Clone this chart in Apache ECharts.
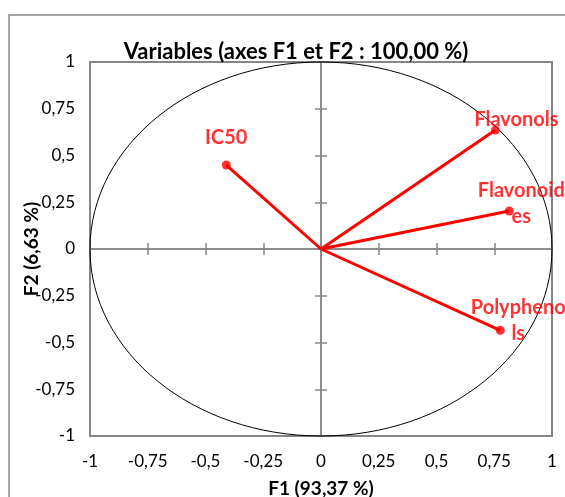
<!DOCTYPE html>
<html>
<head>
<meta charset="utf-8">
<script src="https://cdn.jsdelivr.net/npm/echarts@6/dist/echarts.min.js"></script>
<style>
    html, body {
        margin: 0;
        padding: 0;
        background: #fff;
    }
    #acp {
        width: 565px;
        height: 497px;
    }
</style>
</head>
<body>
<div id="acp"></div>
<script>
// coordonnées des variables sur F1 / F2
var variables = ['IC50', 'Flavonols', 'Flavonoides', 'Polyphenols'];
var f1 = [-0.41, 0.755, 0.815, 0.776];
var f2 = [0.449, 0.636, 0.203, -0.435];
var labelText = ['IC50', 'Flavonols', 'Flavonoid\nes', 'Polypheno\nls'];
var axisTicks = [-1, -0.75, -0.5, -0.25, 0, 0.25, 0.5, 0.75, 1];

// décalage des étiquettes (style)
var labelShift = [[0, -27], [21, -11], [12, -7], [18, -10]];

var gray = '#868686';
var font = 'Lato, "Open Sans", sans-serif';

function fmt(v) {
    return String(v).replace('.', ',');
}

function draw_circle() {
    var myChart = echarts.init(document.getElementById('acp'));

    var points = [];
    var vectors = [];
    for (var i = 0; i < variables.length; i++) {
        points.push({
            name: variables[i],
            value: [f1[i], f2[i]],
            label: {
                show: true,
                position: 'inside',
                offset: labelShift[i],
                formatter: labelText[i]
            }
        });
        vectors.push({coords: [[0, 0], [f1[i], f2[i]]]});
    }

    function valueAxis(pos, extra) {
        var ax = {
            type: 'value',
            min: axisTicks[0],
            max: axisTicks[axisTicks.length - 1],
            interval: 0.25,
            position: pos,
            splitLine: {show: false},
            axisLabel: {show: false},
            axisTick: {show: true, length: 6, lineStyle: {color: gray, width: 1.5}},
            axisLine: {show: true, onZero: true, onZeroAxisIndex: 0, lineStyle: {color: gray, width: 1.5}}
        };
        return Object.assign(ax, extra || {});
    }

    var labelStyle = {
        show: true,
        color: '#000',
        fontFamily: font,
        fontSize: 17,
        formatter: fmt
    };

    var option = {
        animation: false,
        title: {
            text: 'Variables (axes F1 et F2 : 100,00 %)',
            left: 291,
            top: 36,
            textAlign: 'center',
            textStyle: {
                color: '#000',
                fontFamily: font,
                fontWeight: 'bold',
                fontSize: 22
            }
        },
        grid: {
            left: 90,
            right: 13,
            top: 62,
            bottom: 61,
            outerBoundsMode: 'none',
            containLabel: false,
            show: true,
            borderColor: gray,
            borderWidth: 2,
            backgroundColor: 'transparent'
        },
        xAxis: [
            valueAxis('bottom', {
                axisLine: {show: false, onZero: false},
                axisTick: {show: false},
                axisLabel: Object.assign({margin: 17}, labelStyle),
                name: 'F1 (93,37 %)',
                nameLocation: 'middle',
                nameGap: 43,
                nameMoveOverlap: false,
                nameTextStyle: {color: '#000', fontFamily: font, fontWeight: 'bold', fontSize: 19}
            }),
            valueAxis('top'),
            valueAxis('bottom')
        ],
        yAxis: [
            valueAxis('left', {
                axisLine: {show: false, onZero: false},
                axisTick: {show: false},
                axisLabel: Object.assign({margin: 15}, labelStyle),
                name: 'F2 (6,63 %)',
                nameLocation: 'middle',
                nameRotate: 90,
                nameGap: 49,
                nameMoveOverlap: false,
                nameTextStyle: {color: '#000', fontFamily: font, fontWeight: 'bold', fontSize: 19}
            }),
            valueAxis('left'),
            valueAxis('right')
        ],
        series: [
            {
                type: 'lines',
                coordinateSystem: 'cartesian2d',
                xAxisIndex: 0,
                yAxisIndex: 0,
                data: vectors,
                lineStyle: {color: '#ff0000', width: 3, opacity: 1},
                silent: true
            },
            {
                type: 'scatter',
                xAxisIndex: 0,
                yAxisIndex: 0,
                data: points,
                symbolSize: 9,
                itemStyle: {color: '#ff0000'},
                label: {
                    color: '#ff0000',
                    fontFamily: font,
                    fontWeight: 'bold',
                    fontSize: 20,
                    lineHeight: 26,
                    align: 'center'
                }
            }
        ]
    };

    myChart.setOption(option);

    // cercle des corrélations (rayon 1) à partir des échelles
    var c = myChart.convertToPixel({gridIndex: 0}, [0, 0]);
    var px = myChart.convertToPixel({gridIndex: 0}, [1, 1]);
    myChart.setOption({
        graphic: [
            {
                type: 'ellipse',
                shape: {cx: c[0], cy: c[1], rx: px[0] - c[0], ry: c[1] - px[1]},
                style: {fill: 'none', stroke: '#000', lineWidth: 1},
                z: 1,
                silent: true
            },
            {
                type: 'rect',
                shape: {x: 9, y: 15, width: 600, height: 600},
                style: {fill: 'none', stroke: '#898989', lineWidth: 1.5},
                silent: true
            }
        ]
    });
}

draw_circle();
</script>
</body>
</html>
